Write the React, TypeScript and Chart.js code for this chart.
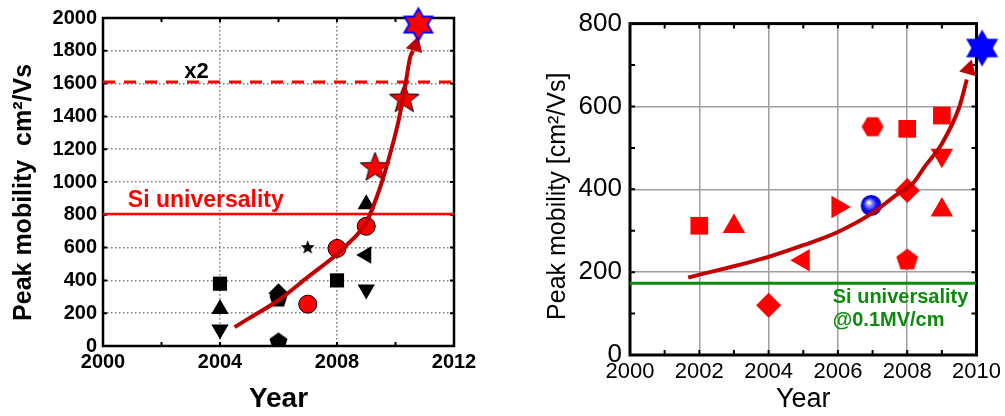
import { useEffect, useRef } from "react";
import { Chart, registerables } from "chart.js";

Chart.register(...registerables);

// ---------------- Left panel data ----------------
const L_X_TICK_STEP = 4;
const L_Y_TICK_STEP = 200;
const L_X_MINOR = [2002, 2004, 2006, 2008, 2010];
const L_Y_MINOR = [200, 400, 600, 800, 1000, 1200, 1400, 1600, 1800];
const L_SI_LEVEL = 805;
const L_X2_LEVEL = 1610;
const L_SQUARE = [[2004, 380], [2008, 400]];
const L_TRI_UP = [[2004, 225], [2009, 865]];
const L_TRI_DOWN = [[2004, 100], [2009, 345]];
const L_TRI_LEFT = [[2009, 555]];
const L_DIAMOND = [[2006, 322]];
const L_PENTAGON = [[2006, 288]];
const L_PENTAGON_LOW = [[2006, 25]];
const L_BLACK_STAR = [[2007, 600]];
const L_RED_CIRCLE = [[2007, 255], [2008, 595], [2009, 730]];
const L_RED_STAR = [[2009.3, 1087], [2010.3, 1505]];
const L_HEXAGRAM = [[2010.78, 1960]];
const L_TREND = [
  [2004.5, 115], [2005, 170], [2006, 279], [2007, 420], [2008, 560],
  [2008.27, 605], [2009, 755], [2009.47, 965], [2009.81, 1168],
  [2010.1, 1370], [2010.32, 1572], [2010.5, 1760], [2010.6, 1800],
];
const L_ARROW = [[2010.68, 1830]];

// ---------------- Right panel data ----------------
const R_X_TICK_STEP = 2;
const R_Y_TICK_STEP = 200;
const R_X_MINOR = [2001, 2002, 2003, 2004, 2005, 2006, 2007, 2008, 2009];
const R_Y_MINOR = [100, 200, 300, 400, 500, 600, 700];
const R_SI_LEVEL = 173;
const R_SQUARE = [[2002, 312], [2008, 546], [2009, 578]];
const R_TRI_UP = [[2003, 310], [2009, 350]];
const R_TRI_DOWN = [[2009, 482]];
const R_TRI_LEFT = [[2005, 229]];
const R_TRI_RIGHT = [[2006, 357]];
const R_DIAMOND = [[2004, 120], [2008, 397]];
const R_HEXAGON = [[2007, 551]];
const R_PENTAGON = [[2008, 229]];
const R_SPHERE = [[2006.96, 361]];
const R_HEXAGRAM = [[2010.16, 741]];
const R_TREND = [
  [2001.68, 187], [2004, 237], [2005, 265], [2006, 297], [2007, 343],
  [2007.68, 386], [2008.16, 414], [2008.5, 454], [2009, 510],
  [2009.5, 598], [2009.72, 665],
];
const R_ARROW = [[2009.78, 690]];

// ---------------- helpers ----------------
const FONT = '"Liberation Sans", Arial, Helvetica, sans-serif';
const pts = (arr: number[][]) => arr.map(([x, y]) => ({ x, y }));

function polyPath(ctx: CanvasRenderingContext2D, cx: number, cy: number, n: number, rOut: number, rIn: number | null, start: number) {
  ctx.beginPath();
  const steps = rIn === null ? n : n * 2;
  for (let i = 0; i < steps; i++) {
    const a = start + (i * 2 * Math.PI) / steps;
    const r = rIn === null ? rOut : i % 2 === 0 ? rOut : rIn;
    const px = cx + r * Math.cos(a);
    const py = cy + r * Math.sin(a);
    if (i === 0) ctx.moveTo(px, py);
    else ctx.lineTo(px, py);
  }
  ctx.closePath();
}

function markerCanvas(R: number, draw: (ctx: CanvasRenderingContext2D, c: number) => void) {
  const size = Math.ceil(2 * R + 6);
  const cv = document.createElement("canvas");
  cv.width = size;
  cv.height = size;
  const ctx = cv.getContext("2d")!;
  draw(ctx, size / 2);
  return cv;
}

function shape(R: number, n: number, inner: number | null, start: number, fill: string, stroke?: string, lw = 1) {
  return markerCanvas(R, (ctx, c) => {
    polyPath(ctx, c, c, n, R, inner, start);
    ctx.fillStyle = fill;
    ctx.fill();
    if (stroke) {
      ctx.lineJoin = "miter";
      ctx.strokeStyle = stroke;
      ctx.lineWidth = lw;
      ctx.stroke();
    }
  });
}

function sphere(R: number) {
  return markerCanvas(R, (ctx, c) => {
    const g = ctx.createRadialGradient(c - R * 0.25, c - R * 0.3, R * 0.05, c, c, R);
    g.addColorStop(0, "#ffffff");
    g.addColorStop(0.25, "#8f8fff");
    g.addColorStop(0.6, "#1010ff");
    g.addColorStop(1, "#0000b0");
    ctx.beginPath();
    ctx.arc(c, c, R, 0, Math.PI * 2);
    ctx.fillStyle = g;
    ctx.fill();
  });
}

function buildMarkers() {
  const up = -Math.PI / 2;
  return {
    blackStar: shape(7.5, 5, 7.5 * 0.42, up, "#000"),
    redStar: shape(15.5, 5, 15.5 * 0.42, up, "#ff0000", "#000", 1),
    hexagramL: shape(16, 6, 16 / Math.sqrt(3), up, "#ff0000", "#0000ff", 2),
    hexagramR: shape(18.5, 6, 18.5 / Math.sqrt(3), up, "#0000ff"),
    pentagonL: shape(9.5, 5, null, up, "#000"),
    pentagonR: shape(11.5, 5, null, up, "#ff0000"),
    hexagonR: shape(11, 6, null, 0, "#ff0000"),
    sphere: sphere(10.5),
  };
}

function marker(data: number[][], style: any, radius: number, color: string, extra: any = {}) {
  return {
    type: "scatter",
    data: pts(data),
    showLine: false,
    pointStyle: style,
    pointRadius: radius,
    pointBackgroundColor: color,
    pointBorderColor: color,
    pointBorderWidth: 0,
    pointRotation: 0,
    clip: false,
    order: 5,
    ...extra,
  };
}

function levelLine(level: number, xmin: number, xmax: number, color: string, width: number, dash: number[] = []) {
  return {
    type: "line",
    data: [{ x: xmin, y: level }, { x: xmax, y: level }],
    borderColor: color,
    borderWidth: width,
    borderDash: dash,
    pointRadius: 0,
    showLine: true,
    order: 10,
  };
}

function trendLine(data: number[][], width: number) {
  return {
    type: "line",
    data: pts(data),
    borderColor: "#c00000",
    borderWidth: width,
    pointRadius: 0,
    showLine: true,
    cubicInterpolationMode: "monotone",
    clip: false,
    order: 2,
  };
}

function framePlugin(id: string, lw: number, tickLen: number, xMinor: number[], yMinor: number[]) {
  return {
    id,
    beforeDatasetsDraw(chart: any) {
      const { ctx, chartArea: a, scales } = chart;
      const x = scales.x;
      const y = scales.y;
      ctx.save();
      ctx.strokeStyle = "#000";
      ctx.lineWidth = 2;
      ctx.beginPath();
      for (const v of xMinor) {
        const px = x.getPixelForValue(v);
        ctx.moveTo(px, a.bottom);
        ctx.lineTo(px, a.bottom - tickLen);
        ctx.moveTo(px, a.top);
        ctx.lineTo(px, a.top + tickLen);
      }
      for (const v of yMinor) {
        const py = y.getPixelForValue(v);
        ctx.moveTo(a.left, py);
        ctx.lineTo(a.left + tickLen, py);
        ctx.moveTo(a.right, py);
        ctx.lineTo(a.right - tickLen, py);
      }
      ctx.stroke();
      ctx.lineWidth = lw;
      ctx.strokeRect(a.left, a.top, a.right - a.left, a.bottom - a.top);
      ctx.restore();
    },
  };
}

type Note = { text: string; x: number; y: number; font: string; color: string; align: CanvasTextAlign };

function notesPlugin(id: string, notes: Note[]) {
  return {
    id,
    afterDatasetsDraw(chart: any) {
      const { ctx, scales } = chart;
      ctx.save();
      for (const n of notes) {
        ctx.font = n.font;
        ctx.fillStyle = n.color;
        ctx.textAlign = n.align;
        ctx.textBaseline = "middle";
        ctx.fillText(n.text, scales.x.getPixelForValue(n.x), scales.y.getPixelForValue(n.y));
      }
      ctx.restore();
    },
  };
}

const DOT = [1.5, 2.5];

function leftConfig(m: any): any {
  const black = "#000";
  const red = "#ff0000";
  return {
    type: "scatter",
    data: {
      datasets: [
        levelLine(L_X2_LEVEL, 2000, 2012, red, 3, [12, 9]),
        levelLine(L_SI_LEVEL, 2000, 2012, red, 2.5),
        marker(L_SQUARE, "rect", 10, black),
        marker(L_TRI_UP, "triangle", 10, black),
        marker(L_TRI_DOWN, "triangle", 10, black, { pointRotation: 180 }),
        marker(L_TRI_LEFT, "triangle", 10, black, { pointRotation: 270 }),
        marker(L_PENTAGON, m.pentagonL, 10, black),
        marker(L_DIAMOND, "rectRot", 10, black),
        marker(L_PENTAGON_LOW, m.pentagonL, 10, black, { clip: 0 }),
        marker(L_BLACK_STAR, m.blackStar, 8, black),
        marker(L_RED_CIRCLE, "circle", 9, red, { pointBorderColor: black, pointBorderWidth: 1 }),
        marker(L_RED_STAR, m.redStar, 16, red),
        trendLine(L_TREND, 4),
        marker(L_ARROW, "triangle", 10, "#c00000", { pointRotation: 16, order: 1 }),
        marker(L_HEXAGRAM, m.hexagramL, 18, red, { order: 0 }),
      ],
    },
    options: {
      responsive: false,
      maintainAspectRatio: false,
      animation: false,
      events: [],
      layout: { padding: { left: 0, top: 16, right: 46, bottom: 0 } },
      plugins: { legend: { display: false }, tooltip: { enabled: false } },
      scales: {
        x: {
          type: "linear",
          min: 2000,
          max: 2012,
          afterFit: (s: any) => { s.height = 70; },
          ticks: {
            stepSize: L_X_TICK_STEP,
            callback: (v: any) => String(v),
            color: "#000",
            font: { family: FONT, size: 20, weight: "bold" },
            padding: 4,
            maxRotation: 0,
          },
          grid: { color: "#7a7a7a", lineWidth: 1.5, drawTicks: false, dash: DOT, borderDash: DOT },
          border: { display: false, dash: DOT },
          title: {
            display: true,
            text: "Year",
            color: "#000",
            font: { family: FONT, size: 28, weight: "bold" },
            padding: { top: 0, bottom: 0 },
          },
        },
        y: {
          type: "linear",
          min: 0,
          max: 2000,
          afterFit: (s: any) => { s.width = 103; },
          ticks: {
            stepSize: L_Y_TICK_STEP,
            callback: (v: any) => String(v),
            color: "#000",
            font: { family: FONT, size: 20, weight: "bold" },
            padding: 6,
          },
          grid: { color: "#7a7a7a", lineWidth: 1.5, drawTicks: false, dash: DOT, borderDash: DOT },
          border: { display: false, dash: DOT },
          title: {
            display: true,
            text: "Peak mobility  cm²/Vs   ",
            color: "#000",
            font: { family: FONT, size: 25, weight: "bold" },
            padding: { top: 9, bottom: 0 },
          },
        },
      },
    },
    plugins: [
      framePlugin("frameL", 2.5, 4, L_X_MINOR, L_Y_MINOR),
      notesPlugin("notesL", [
        { text: "x2", x: 2003.2, y: 1673, font: `bold 22px ${FONT}`, color: "#000", align: "center" },
        { text: "Si universality", x: 2000.85, y: 885, font: `bold 23px ${FONT}`, color: red, align: "left" },
      ]),
    ],
  };
}

function rightConfig(m: any): any {
  const red = "#ff0000";
  const green = "#0b8a0b";
  return {
    type: "scatter",
    data: {
      datasets: [
        levelLine(R_SI_LEVEL, 2000, 2010, green, 3),
        marker(R_SQUARE, "rect", 12.5, red),
        marker(R_TRI_UP, "triangle", 13, red),
        marker(R_TRI_DOWN, "triangle", 13, red, { pointRotation: 180 }),
        marker(R_TRI_LEFT, "triangle", 13, red, { pointRotation: 270 }),
        marker(R_TRI_RIGHT, "triangle", 13, red, { pointRotation: 90 }),
        marker(R_DIAMOND, "rectRot", 12.5, red),
        marker(R_HEXAGON, m.hexagonR, 12, red),
        marker(R_PENTAGON, m.pentagonR, 12, red),
        marker(R_SPHERE, m.sphere, 11, "#0000ff"),
        trendLine(R_TREND, 4),
        marker(R_ARROW, "triangle", 10, "#c00000", { pointRotation: 16, order: 1 }),
        marker(R_HEXAGRAM, m.hexagramR, 20, "#0000ff", { order: 0 }),
      ],
    },
    options: {
      responsive: false,
      maintainAspectRatio: false,
      animation: false,
      events: [],
      layout: { padding: { left: 0, top: 23, right: 28, bottom: 0 } },
      plugins: { legend: { display: false }, tooltip: { enabled: false } },
      scales: {
        x: {
          type: "linear",
          min: 2000,
          max: 2010,
          afterFit: (s: any) => { s.height = 61; },
          ticks: {
            stepSize: R_X_TICK_STEP,
            callback: (v: any) => String(v),
            color: "#000",
            font: { family: FONT, size: 22 },
            padding: 4,
            maxRotation: 0,
          },
          grid: { color: "#a0a0a0", lineWidth: 1.5, drawTicks: false },
          border: { display: false },
          title: {
            display: true,
            text: "Year",
            color: "#000",
            font: { family: FONT, size: 27 },
            padding: { top: 0, bottom: 0 },
          },
        },
        y: {
          type: "linear",
          min: 0,
          max: 800,
          afterFit: (s: any) => { s.width = 130; },
          ticks: {
            stepSize: R_Y_TICK_STEP,
            callback: (v: any) => String(v),
            color: "#000",
            font: { family: FONT, size: 26 },
            padding: 8,
          },
          grid: { color: "#a0a0a0", lineWidth: 1.5, drawTicks: false },
          border: { display: false },
          title: {
            display: true,
            text: "Peak mobility [cm²/Vs]  ",
            color: "#000",
            font: { family: FONT, size: 25 },
            padding: { top: 43, bottom: 0 },
          },
        },
      },
    },
    plugins: [
      framePlugin("frameR", 3, 5, R_X_MINOR, R_Y_MINOR),
      notesPlugin("notesR", [
        { text: "Si universality", x: 2005.85, y: 140, font: `bold 20px ${FONT}`, color: green, align: "left" },
        { text: "@0.1MV/cm", x: 2005.85, y: 84, font: `bold 20px ${FONT}`, color: green, align: "left" },
      ]),
    ],
  };
}

export default function App() {
  const leftRef = useRef<HTMLCanvasElement>(null);
  const rightRef = useRef<HTMLCanvasElement>(null);

  useEffect(() => {
    const m = buildMarkers();
    const c1 = new Chart(leftRef.current!, leftConfig(m));
    const c2 = new Chart(rightRef.current!, rightConfig(m));
    return () => {
      c1.destroy();
      c2.destroy();
    };
  }, []);

  return (
    <div style={{ position: "fixed", left: 0, top: 0, width: 1005, height: 416, background: "#fff" }}>
      <canvas
        ref={leftRef}
        width={500}
        height={416}
        style={{ position: "absolute", left: 0, top: 0, width: 500, height: 416 }}
      />
      <canvas
        ref={rightRef}
        width={505}
        height={416}
        style={{ position: "absolute", left: 500, top: 0, width: 505, height: 416 }}
      />
    </div>
  );
}
